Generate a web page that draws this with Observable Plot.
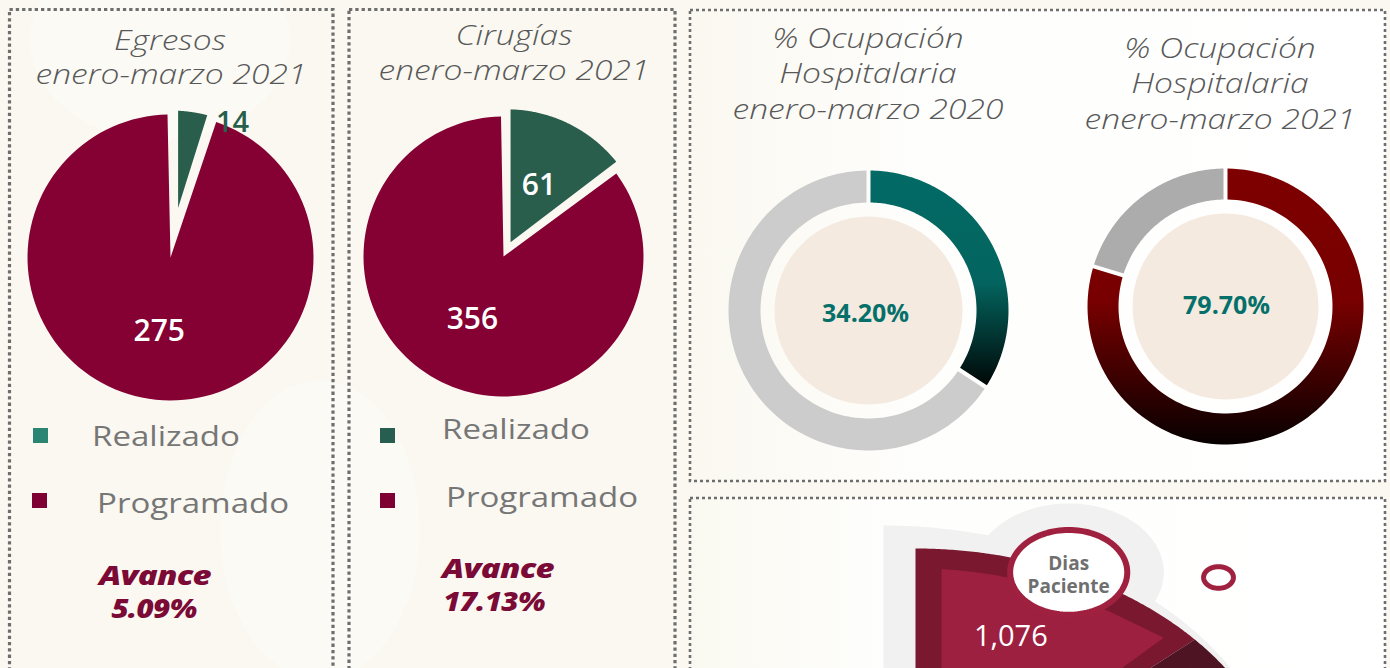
<!DOCTYPE html>
<html lang="es">
<head>
<meta charset="utf-8">
<script src="https://cdn.jsdelivr.net/npm/d3@7"></script>
<script src="https://cdn.jsdelivr.net/npm/@observablehq/plot@0.6"></script>
<style>
  html, body { margin:0; padding:0; }
  body { width:1390px; height:668px; overflow:hidden; position:relative; background:#faf8f1; font-family:"Open Sans","Noto Sans",sans-serif; }
  .abs { position:absolute; }
  .t { position:absolute; white-space:nowrap; transform:translateX(-50%) scaleX(1.2); transform-origin:50% 50%; font-style:italic; font-weight:300; color:#585858; font-size:28px; line-height:28px; }
  .leg { position:absolute; white-space:nowrap; transform:scaleX(1.18); transform-origin:0 50%; font-size:28px; line-height:28px; color:#767676; }
  .sq { position:absolute; width:15px; height:15px; }
  .av { position:absolute; white-space:nowrap; transform:translateX(-50%) scaleX(1.22); transform-origin:50% 50%; font-style:italic; font-weight:800; color:#7b0a36; font-size:27px; line-height:27px; letter-spacing:-0.6px; }
  .av.pct { transform:translateX(-50%) scaleX(1.1); }
</style>
</head>
<body>
<svg width="0" height="0" style="position:absolute">
  <defs>
    <linearGradient id="gTeal" x1="0" y1="0" x2="0" y2="1">
      <stop offset="0" stop-color="#036a65"/>
      <stop offset="0.52" stop-color="#03645f"/>
      <stop offset="1" stop-color="#000807"/>
    </linearGradient>
    <linearGradient id="gMaroon" x1="0" y1="0" x2="0" y2="1">
      <stop offset="0" stop-color="#7e0000"/>
      <stop offset="0.48" stop-color="#780000"/>
      <stop offset="1" stop-color="#070000"/>
    </linearGradient>
  </defs>
</svg>
<div id="bg"></div>
<div id="charts"></div>
<svg id="frames" class="abs" width="1390" height="668" style="left:0;top:0;pointer-events:none"></svg>
<script>
// ---------------- datos ----------------
const categorias = ["Realizado", "Programado"];
const egresosTitulo = ["Egresos", "enero-marzo 2021"];
const egresosValores = [14, 275];
const egresosAvance = ["Avance", "5.09%"];
const cirugiasTitulo = ["Cirugías", "enero-marzo 2021"];
const cirugiasValores = [61, 356];
const cirugiasAvance = ["Avance", "17.13%"];
const ocupacionTitulos = [
  ["% Ocupación", "Hospitalaria", "enero-marzo 2020"],
  ["% Ocupación", "Hospitalaria", "enero-marzo 2021"]
];
const ocupacionValores = [34.2, 79.7];
const ocupacionEtiquetas = ["34.20%", "79.70%"];
const diasSegmentos = ["Dias Paciente", ""];
const diasValores = ["1,076", ""];

// ---------------- utilidades ----------------
const deg = Math.PI / 180;
function arc(a0, a1, r, cx = 0, cy = 0, n = 120) {
  const p = [];
  for (let i = 0; i <= n; i++) {
    const a = a0 + (a1 - a0) * i / n;
    p.push({x: cx + r * Math.sin(a), y: cy + r * Math.cos(a)});
  }
  return p;
}
const charts = document.getElementById("charts");
function place(el, left, top) {
  const d = document.createElement("div");
  d.className = "abs";
  d.style.left = left + "px"; d.style.top = top + "px";
  d.appendChild(el);
  charts.appendChild(d);
  return el;
}
function blur(svg, label, px) {
  svg.querySelectorAll(`[aria-label="${label}"]`).forEach(g => g.style.filter = `blur(${px}px)`);
}
function textDiv(cls, txt, left, top) {
  const d = document.createElement("div");
  d.className = cls; d.textContent = txt;
  d.style.left = left + "px"; d.style.top = top + "px";
  charts.appendChild(d);
}

// ---------------- pastel ----------------
function piePlot(valores, o) {
  const arcs = d3.pie().sort(null).value(d => d)(valores);
  const marks = [];
  arcs.forEach((a, i) => {
    const mid = (a.startAngle + a.endAngle) / 2, h = (a.endAngle - a.startAngle) / 2;
    const ox = o.explode[i] * Math.sin(mid), oy = o.explode[i] * Math.cos(mid);
    const tip = h < Math.PI / 2 ? o.gap[i] / Math.sin(h) : 0;
    const d = Math.asin(o.gap[i] / o.R);
    const pts = [{x: ox + tip * Math.sin(mid), y: oy + tip * Math.cos(mid)},
                 ...arc(a.startAngle + d, a.endAngle - d, o.R, ox, oy)];
    marks.push(Plot.line(pts, {x: "x", y: "y", fill: o.colors[i], stroke: "none", curve: "linear-closed"}));
  });
  o.labels.forEach(l => {
    const a = arcs[l.i];
    const ang = l.at === "end" ? a.endAngle : (a.startAngle + a.endAngle) / 2;
    const r = l.r * o.R;
    const lab = {x: r * Math.sin(ang), y: r * Math.cos(ang), text: String(valores[l.i])};
    marks.push(Plot.text([lab], {x: "x", y: "y", text: "text", fill: l.fill, fontSize: l.size,
      fontWeight: 600, fontFamily: "Open Sans", textAnchor: l.anchor || "middle", dx: l.dx || 0, dy: l.dy || 0}));
  });
  return Plot.plot({
    width: 2 * o.half, height: 2 * o.half, margin: 0,
    x: {domain: [-o.half, o.half], axis: null},
    y: {domain: [-o.half, o.half], axis: null},
    style: "background:transparent;overflow:visible;",
    marks
  });
}

// ---------------- dona ----------------
function donutPlot(valor, o) {
  const arcs = d3.pie().sort(null).value(d => d)([valor, 100 - valor]);
  const marks = [];
  marks.push(Plot.dot([{x: 0, y: 0}], {x: "x", y: "y", r: o.disk, fill: "#f4eae0", stroke: "none", ariaLabel: "disco"}));
  arcs.forEach((a, i) => {
    const g = o.gap;
    const d1 = Math.asin(g / o.R1), d0 = Math.asin(g / o.R0);
    const pts = [...arc(a.startAngle + d1, a.endAngle - d1, o.R1), ...arc(a.endAngle - d0, a.startAngle + d0, o.R0)];
    marks.push(Plot.line(pts, {x: "x", y: "y", fill: o.colors[i], stroke: "none", curve: "linear-closed"}));
  });
  marks.push(Plot.text([{x: 0, y: 0, t: o.label}], {x: "x", y: "y", text: "t", fill: "#05706a", fontSize: 25,
    fontWeight: 700, fontFamily: "Open Sans", dx: o.dx, dy: o.dy}));
  const svg = Plot.plot({
    width: 2 * o.half, height: 2 * o.half, margin: 0,
    x: {domain: [-o.half, o.half], axis: null},
    y: {domain: [-o.half, o.half], axis: null},
    style: "background:transparent;overflow:visible;",
    marks
  });
  blur(svg, "disco", 2.5);
  return svg;
}

// ---------------- fondos ----------------
const bg = document.getElementById("bg");
bg.innerHTML = `
 <div class="abs" style="left:690px;top:10px;width:695px;height:471px;background:linear-gradient(90deg,#faf8f0 0%,#fefefd 35%,#ffffff 100%)"></div>
 <div class="abs" style="left:690px;top:498px;width:695px;height:200px;background:linear-gradient(90deg,#faf9f1 0%,#fefefd 30%,#ffffff 100%)"></div>
 <div class="abs" style="left:30px;top:-60px;width:260px;height:200px;border-radius:50%;background:#fdfcf8;opacity:.6"></div>
 <div class="abs" style="left:220px;top:380px;width:200px;height:300px;border-radius:50%;background:#fdfcf8;opacity:.5"></div>`;

// ---------------- panel 1: Egresos ----------------
place(piePlot(egresosValores, {
  R: 143, half: 160, explode: [4, 0], gap: [7, 3], colors: ["#295e4d", "#850033"],
  labels: [
    {i: 0, at: "end", r: 1.06, anchor: "start", dx: 0, dy: 10, fill: "#295e4d", size: 29},
    {i: 1, at: "mid", r: 0.52, fill: "#ffffff", size: 30}
  ]
}), 10, 97);
textDiv("t", egresosTitulo[0], 170, 25);
textDiv("t", egresosTitulo[1], 171, 59);
textDiv("leg", categorias[0], 92, 421);
textDiv("leg", categorias[1], 97, 488);
textDiv("av", egresosAvance[0], 155, 561);
textDiv("av pct", egresosAvance[1], 154, 594);
charts.insertAdjacentHTML("beforeend",
  `<div class="sq" style="left:33px;top:428px;background:#2a8573"></div>
   <div class="sq" style="left:32px;top:493px;background:#7f0033"></div>`);

// ---------------- panel 2: Cirugías ----------------
place(piePlot(cirugiasValores, {
  R: 140, half: 160, explode: [8, 0], gap: [3.5, 2.5], colors: ["#295e4d", "#850033"],
  labels: [
    {i: 0, at: "mid", r: 0.57, fill: "#ffffff", size: 30},
    {i: 1, at: "mid", r: 0.50, fill: "#ffffff", size: 30}
  ]
}), 343, 96);
textDiv("t", cirugiasTitulo[0], 514, 20);
textDiv("t", cirugiasTitulo[1], 514, 55);
textDiv("leg", categorias[0], 442, 414);
textDiv("leg", categorias[1], 446, 482);
textDiv("av", cirugiasAvance[0], 498, 554);
textDiv("av pct", cirugiasAvance[1], 494, 587);
charts.insertAdjacentHTML("beforeend",
  `<div class="sq" style="left:380px;top:428px;background:#285e4f"></div>
   <div class="sq" style="left:380px;top:493px;background:#7f0033"></div>`);

// ---------------- panel 3: Ocupación ----------------
place(donutPlot(ocupacionValores[0], {
  R1: 140, R0: 108, half: 150, gap: 2, disk: 94, colors: ["url(#gTeal)", "#cccccc"],
  label: ocupacionEtiquetas[0], dx: -3, dy: 3
}), 718, 160);
place(donutPlot(ocupacionValores[1], {
  R1: 138, R0: 107, half: 150, gap: 2, disk: 93, colors: ["url(#gMaroon)", "#acacac"],
  label: ocupacionEtiquetas[1], dx: 1, dy: -1
}), 1075, 156);
[[868, [23, 58, 94]], [1220, [33, 68, 104]]].forEach(([cx, tops], k) =>
  ocupacionTitulos[k].forEach((s, j) => textDiv("t", s, cx, tops[j])));

// ---------------- panel 4: Dias Paciente ----------------
(function () {
  const span = 48.5 * deg;
  const frame = ["#7a1830", "#4e1424"], light = ["#9e2040", "#6c1a2e"];
  const marks = [];
  marks.push(Plot.line([{x: -0.086, y: 0}, ...arc(0, 95 * deg, 1.085, -0.086, 0)],
    {x: "x", y: "y", fill: "#f1f1f1", stroke: "none", curve: "linear-closed"}));
  const mid0 = span / 2;
  marks.push(Plot.line(arc(0, 2 * Math.PI, 0.255, Math.sin(mid0), Math.cos(mid0)),
    {x: "x", y: "y", fill: "#f1f1f1", stroke: "none", curve: "linear-closed"}));
  diasSegmentos.forEach((s, i) => {
    const a0 = i * span, a1 = a0 + span;
    marks.push(Plot.line([{x: 0, y: 0}, ...arc(a0, a1, 1)], {x: "x", y: "y", fill: frame[i], stroke: "none", curve: "linear-closed"}));
    const g = 0.07, rl = 0.926;
    const n = {x: Math.cos(a0), y: -Math.sin(a0)}, dv = {x: Math.sin(a0), y: Math.cos(a0)};
    const t = Math.sqrt(rl * rl - g * g);
    const aT = a0 + 0.924 * span;
    const pts = [
      {x: g * n.x + 0.12 * dv.x, y: g * n.y + 0.12 * dv.y},
      {x: g * n.x + t * dv.x, y: g * n.y + t * dv.y},
      ...arc(a0 + Math.asin(g / rl), a0 + 0.70 * span, rl),
      {x: 0.944 * Math.sin(aT), y: 0.944 * Math.cos(aT)},
      {x: 0.12 * Math.sin(aT), y: 0.12 * Math.cos(aT)}
    ];
    marks.push(Plot.line(pts, {x: "x", y: "y", fill: light[i], stroke: "none", curve: "linear-closed"}));
  });
  const s0 = diasSegmentos[0].split(" ");
  const cx = Math.sin(mid0), cy = Math.cos(mid0);
  marks.push(Plot.line(arc(0, 2 * Math.PI, 0.157, cx, cy), {x: "x", y: "y", fill: "#ffffff", stroke: "#a0203f", strokeWidth: 6, curve: "linear-closed"}));
  const ar = span - 6.2 * deg;
  marks.push(Plot.line(arc(0, 2 * Math.PI, 0.04, 1.207 * Math.sin(ar), 1.207 * Math.cos(ar)), {x: "x", y: "y", fill: "#ffffff", stroke: "#a0203f", strokeWidth: 5, curve: "linear-closed"}));
  marks.push(Plot.text([{x: cx, y: cy, t: s0[0]}], {x: "x", y: "y", text: "t", fill: "#6f6f6f",
    fontSize: 19, fontWeight: 700, fontFamily: "Open Sans", dy: -8}));
  marks.push(Plot.text([{x: cx, y: cy, t: s0[1]}], {x: "x", y: "y", text: "t", fill: "#6f6f6f",
    fontSize: 19, fontWeight: 700, fontFamily: "Open Sans", dy: 15}));
  marks.push(Plot.text([{x: 0.72 * Math.sin(mid0), y: 0.72 * Math.cos(mid0), t: diasValores[0]}], {x: "x", y: "y", text: "t",
    fill: "#ffffff", fontSize: 29, fontWeight: 500, fontFamily: "Open Sans", dx: -15, dy: -5}));
  const svg = Plot.plot({
    width: 695, height: 170, margin: 0,
    x: {domain: [(690 - 915) / 373, (1385 - 915) / 373], axis: null},
    y: {domain: [(818 - 668) / 270, (818 - 498) / 270], axis: null},
    style: "background:transparent;overflow:hidden;",
    marks
  });
  place(svg, 690, 498);
})();

// ---------------- marcos punteados ----------------
const frames = document.getElementById("frames");
frames.innerHTML = `
 <rect x="9.5" y="9.5" width="323.5" height="700" fill="none" stroke="#6e6e6e" stroke-width="3.2" stroke-dasharray="3.3 3"/>
 <rect x="349" y="9.5" width="326" height="700" fill="none" stroke="#6e6e6e" stroke-width="3.2" stroke-dasharray="3.3 3"/>
 <rect x="690" y="10" width="695" height="471" fill="none" stroke="#6e6e6e" stroke-width="2.6" stroke-dasharray="3 3"/>
 <rect x="690" y="498" width="695" height="300" fill="none" stroke="#6e6e6e" stroke-width="2.6" stroke-dasharray="3 3"/>`;
</script>
</body>
</html>
